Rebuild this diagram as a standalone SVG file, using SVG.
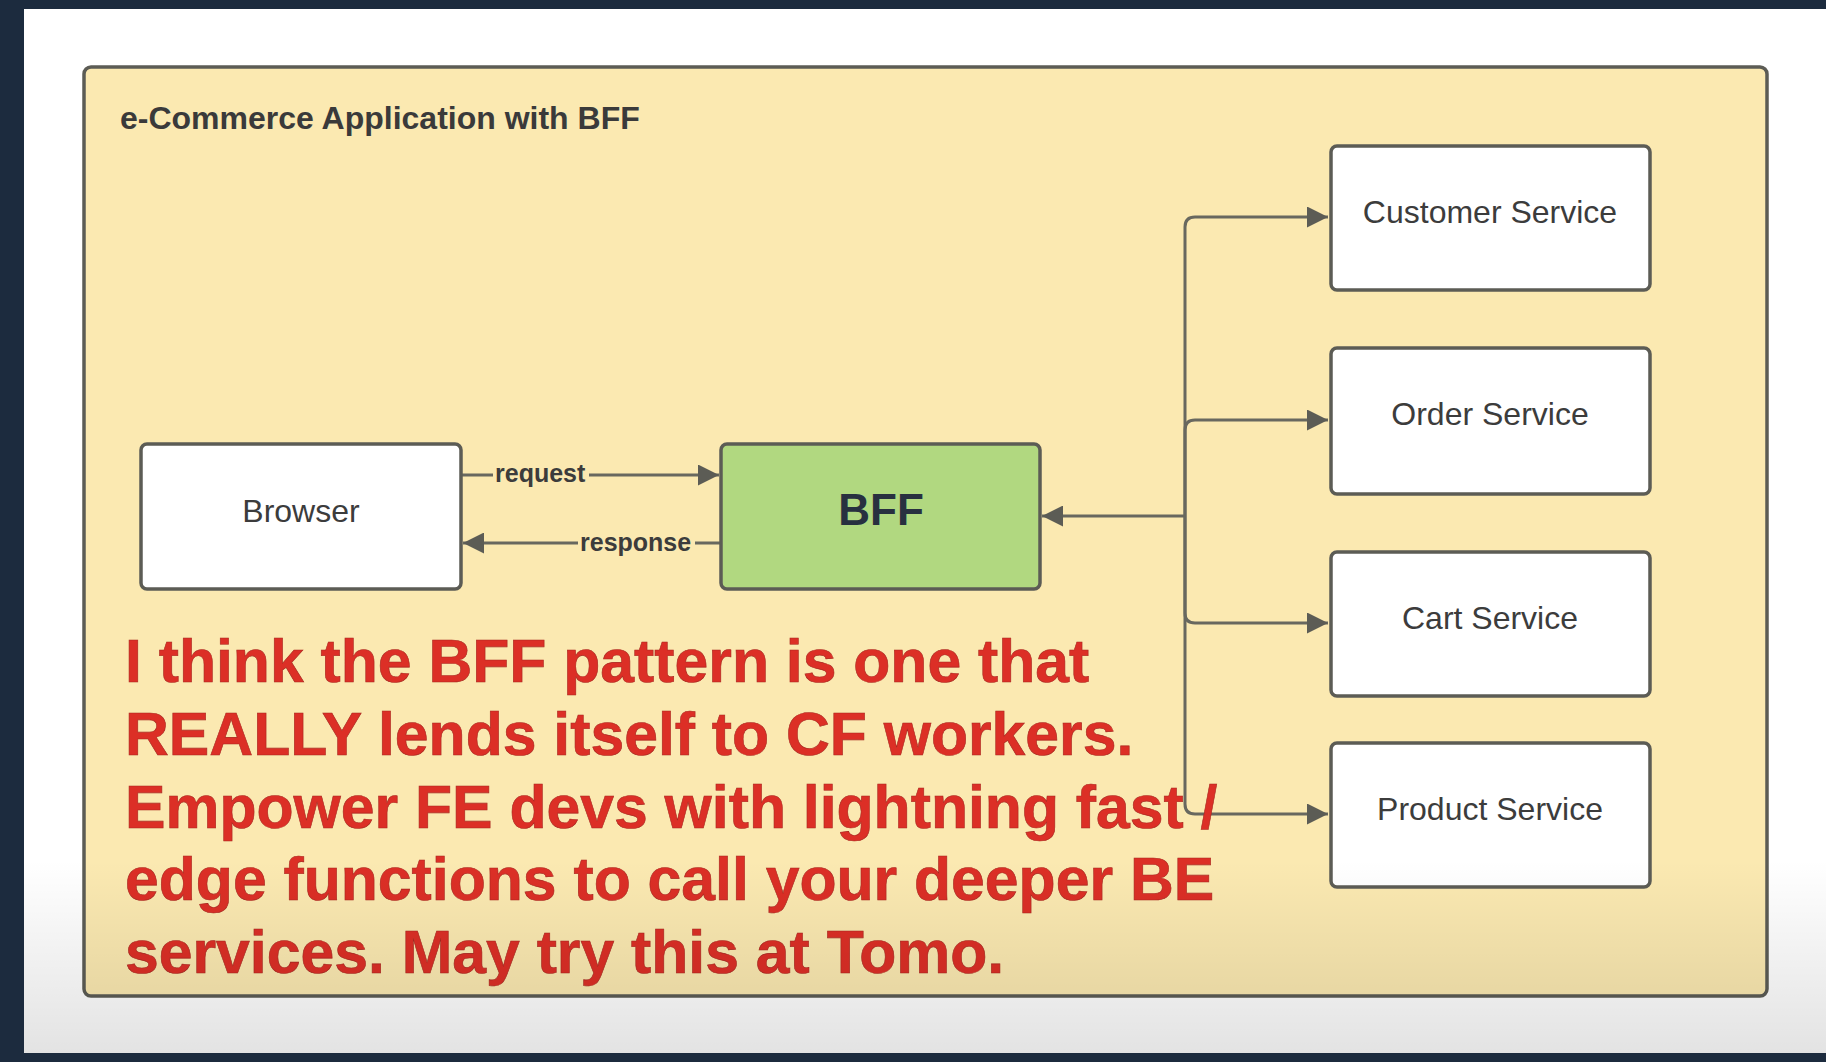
<svg xmlns="http://www.w3.org/2000/svg" width="1826" height="1062" viewBox="0 0 1826 1062">
<defs>
<style>
.box{fill:#ffffff;stroke:#5c5c55;stroke-width:3.5}
.lbl{font-family:"Liberation Sans",Arial,sans-serif;font-size:32px;fill:#3c3c3c;text-anchor:middle}
.conn{fill:none;stroke:#68685f;stroke-width:3}
.edge{font-family:"Liberation Sans",Arial,sans-serif;font-size:25px;font-weight:bold;fill:#3c3c3c}
.note{font-family:"Liberation Sans",Arial,sans-serif;font-size:60.7px;font-weight:bold;fill:#dc2f26;stroke:#a82820;stroke-width:0.6}
</style>
<marker id="ah" viewBox="0 0 10 10" refX="10" refY="5" markerWidth="8" markerHeight="7" markerUnits="strokeWidth" orient="auto-start-reverse">
<path d="M0,0 L10,5 L0,10 z" fill="#5c5c55"/>
</marker>
<linearGradient id="fade" x1="0" y1="0" x2="0" y2="1">
<stop offset="0" stop-color="#000" stop-opacity="0"/>
<stop offset="1" stop-color="#000" stop-opacity="0.11"/>
</linearGradient>
</defs>
<rect x="0" y="0" width="1826" height="1062" fill="#1c2b3e"/>
<rect x="24" y="9" width="1802" height="1044" fill="#ffffff"/>
<g id="container">
<rect x="84" y="67" width="1683" height="929" rx="7" fill="#fbe9b1" stroke="#5c5c55" stroke-width="3.5"/>
<text x="120" y="129" font-family="'Liberation Sans',Arial,sans-serif" font-size="32" font-weight="bold" fill="#3a3a3a">e-Commerce Application with BFF</text>
</g>
<g id="connectors">
<path class="conn" d="M461,475 H719" marker-end="url(#ah)"/>
<path class="conn" d="M721,543 H463" marker-end="url(#ah)"/>
<rect x="493" y="458" width="96" height="30" fill="#fbe9b1"/>
<text class="edge" x="495" y="482">request</text>
<rect x="578" y="526" width="117" height="30" fill="#fbe9b1"/>
<text class="edge" x="580" y="551">response</text>
<path class="conn" d="M1185,516 H1042" marker-end="url(#ah)"/>
<path class="conn" d="M1185,516 V227 Q1185,217 1195,217 H1328" marker-end="url(#ah)"/>
<path class="conn" d="M1185,516 V430 Q1185,420 1195,420 H1328" marker-end="url(#ah)"/>
<path class="conn" d="M1185,516 V613 Q1185,623 1195,623 H1328" marker-end="url(#ah)"/>
<path class="conn" d="M1185,516 V804 Q1185,814 1195,814 H1328" marker-end="url(#ah)"/>
</g>
<g id="browser">
<rect class="box" x="141" y="444" width="320" height="145" rx="6"/>
<text class="lbl" x="301" y="522">Browser</text>
</g>
<g id="bff">
<rect x="721" y="444" width="319" height="145" rx="6" fill="#b1d880" stroke="#5c5c55" stroke-width="3.5"/>
<text x="881" y="525" font-family="'Liberation Sans',Arial,sans-serif" font-size="44" font-weight="bold" fill="#283040" text-anchor="middle">BFF</text>
</g>
<g id="customer-service">
<rect class="box" x="1331" y="146" width="319" height="144" rx="6"/>
<text class="lbl" x="1490" y="223">Customer Service</text>
</g>
<g id="order-service">
<rect class="box" x="1331" y="348" width="319" height="146" rx="6"/>
<text class="lbl" x="1490" y="425">Order Service</text>
</g>
<g id="cart-service">
<rect class="box" x="1331" y="552" width="319" height="144" rx="6"/>
<text class="lbl" x="1490" y="629">Cart Service</text>
</g>
<g id="product-service">
<rect class="box" x="1331" y="743" width="319" height="144" rx="6"/>
<text class="lbl" x="1490" y="820">Product Service</text>
</g>
<g id="note">
<text class="note" x="125" y="682">I think the BFF pattern is one that</text>
<text class="note" x="125" y="755">REALLY lends itself to CF workers.</text>
<text class="note" x="125" y="828">Empower FE devs with lightning fast /</text>
<text class="note" x="125" y="900">edge functions to call your deeper BE</text>
<text class="note" x="125" y="973">services. May try this at Tomo.</text>
</g>
<rect x="24" y="860" width="1802" height="193" fill="url(#fade)"/>
</svg>
